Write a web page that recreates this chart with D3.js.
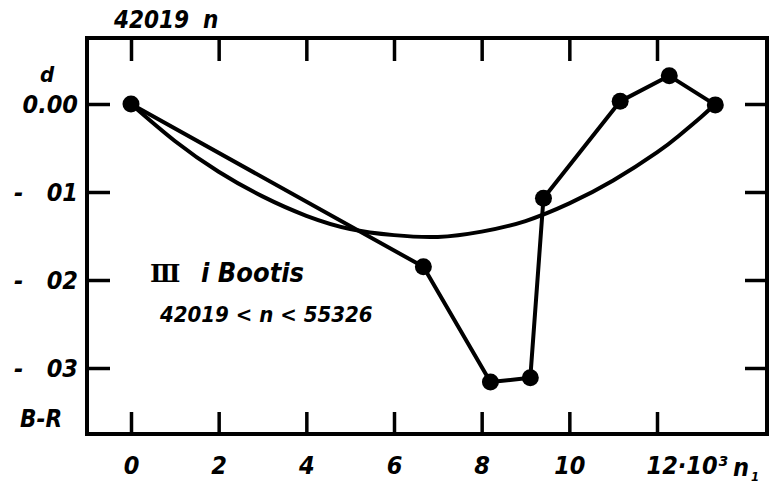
<!DOCTYPE html>
<html>
<head>
<meta charset="utf-8">
<script src="https://cdn.jsdelivr.net/npm/d3@7"></script>
<style>
  body { margin: 0; background: #fff; }
  svg text { font-family: "DejaVu Sans Condensed", "DejaVu Sans", sans-serif; font-style: italic; font-weight: bold; fill: #000; white-space: pre; }
</style>
</head>
<body>
<svg id="chart" width="770" height="490"></svg>
<script>
// observed points, joined in order
var nObs = [0, 6.67, 8.2, 9.11, 9.41, 11.16, 12.28, 13.33];
var dObs = [0, -0.0185, -0.0316, -0.0311, -0.0107, 0.0003, 0.0032, -0.0001];

// smooth fitted curve
var nFit = [0, 1, 2, 3, 4, 5, 6, 7, 8, 9, 10, 11, 12, 12.5, 13, 13.33];
var dFit = [0, -0.0042, -0.0077, -0.0105, -0.0127, -0.0142, -0.0149, -0.0151, -0.0145, -0.0133, -0.0113, -0.0087, -0.0055, -0.0036, -0.0015, 0];

var xTicks = [0, 2, 4, 6, 8, 10, 12];
var xTickLabels = ["0", "2", "4", "6", "8", "10", "12"];
var yTicks = [0, -0.01, -0.02, -0.03];
var yTickLabels = ["0.00", "-   01", "-   02", "-   03"];

var svg = d3.select("#chart");

// frame edges (window.top is reserved, so no plain "top")
var marcoIzq = 87, marcoDer = 767, marcoArriba = 38, marcoAbajo = 434;

var x = d3.scaleLinear().domain([0, 12]).range([131, 657]);
var y = d3.scaleLinear().domain([0, -0.03]).range([104, 368]);

// frame
svg.append("rect")
      .attr("x", marcoIzq)
      .attr("y", marcoArriba)
      .attr("width", marcoDer - marcoIzq)
      .attr("height", marcoAbajo - marcoArriba)
      .style("fill", "none")
      .style("stroke", "#000")
      .style("stroke-width", 4);

function estiloEje(g){
      g.select(".domain").remove();
      g.selectAll(".tick line").style("stroke", "#000").style("stroke-width", 3.5);
      g.selectAll(".tick text").style("font-size", "25px").attr("fill", "#000");
}

var ejeAbajo = svg.append("g")
      .attr("transform", "translate(0," + marcoAbajo + ")")
      .call(d3.axisBottom(x).tickValues(xTicks).tickSize(-22).tickPadding(22)
            .tickFormat(function(d, i){ return xTickLabels[i]; }))
      .call(estiloEje);

// the 12 label carries the ·10³ factor
ejeAbajo.selectAll(".tick text")
      .filter(function(d){ return d === 12; })
      .attr("text-anchor", "start")
      .attr("x", -11)
      .text("12·10³");

svg.append("g")
      .attr("transform", "translate(0," + marcoArriba + ")")
      .call(d3.axisTop(x).tickValues(xTicks).tickSize(-23).tickFormat(""))
      .call(estiloEje);

svg.append("g")
      .attr("transform", "translate(" + marcoIzq + ",0)")
      .call(d3.axisLeft(y).tickValues(yTicks).tickSize(-23).tickPadding(9)
            .tickFormat(function(d, i){ return yTickLabels[i]; }))
      .call(estiloEje);

svg.append("g")
      .attr("transform", "translate(" + marcoDer + ",0)")
      .call(d3.axisRight(y).tickValues(yTicks).tickSize(-22).tickFormat(""))
      .call(estiloEje);

// fitted curve
var lineaFit = d3.line()
      .x(function(d){ return x(d[0]); })
      .y(function(d){ return y(d[1]); })
      .curve(d3.curveNatural);

svg.append("path")
      .datum(d3.zip(nFit, dFit))
      .attr("d", lineaFit)
      .style("fill", "none")
      .style("stroke", "#000")
      .style("stroke-width", 4);

// observed polyline
var lineaObs = d3.line()
      .x(function(d){ return x(d[0]); })
      .y(function(d){ return y(d[1]); });

svg.append("path")
      .datum(d3.zip(nObs, dObs))
      .attr("d", lineaObs)
      .style("fill", "none")
      .style("stroke", "#000")
      .style("stroke-width", 4)
      .style("stroke-linejoin", "round");

svg.selectAll(".punto")
      .data(d3.zip(nObs, dObs))
      .enter().append("circle")
      .attr("class", "punto")
      .attr("cx", function(d){ return x(d[0]); })
      .attr("cy", function(d){ return y(d[1]); })
      .attr("r", 8.5)
      .style("fill", "#000");

// labels
svg.append("text").attr("x", 114).attr("y", 28).style("font-size", "24px").text("42019");
svg.append("text").attr("x", 203).attr("y", 28).style("font-size", "24px").text("n");
svg.append("text").attr("x", 40).attr("y", 82).style("font-size", "22px").text("d");
svg.append("text").attr("x", 20).attr("y", 427).style("font-size", "24px").text("B-R");
svg.append("text").attr("x", 733).attr("y", 476).style("font-size", "25px").text("n");
svg.append("text").attr("x", 751).attr("y", 481).style("font-size", "13px").text("1");

svg.append("text").attr("x", 150).attr("y", 282).style("font-size", "25px").style("font-family", "DejaVu Serif").style("font-style", "normal").text("Ⅲ");
svg.append("text").attr("x", 201).attr("y", 282).style("font-size", "27px").text("i Bootis");
svg.append("text").attr("x", 160).attr("y", 322).style("font-size", "22px").text("42019 < n < 55326");
</script>
</body>
</html>
